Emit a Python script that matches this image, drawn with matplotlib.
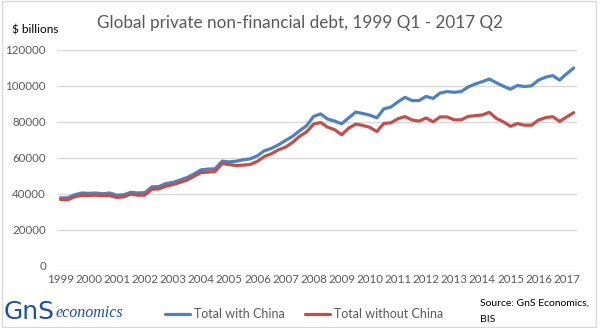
import numpy as np
import matplotlib
matplotlib.use('Agg')
from matplotlib import pyplot as plt
from matplotlib.patches import Rectangle

# quarterly values, 1999 Q1 .. 2017 Q2, $ billions
with_china = [37700, 37700, 39400, 40400, 40200, 40400, 40000, 40400,
              39200, 39400, 40800, 40400, 40600, 43800, 44000, 45700,
              46300, 47600, 49000, 51000, 53300, 53700, 53900, 58100,
              57700, 58100, 58900, 59400, 61100, 63900, 65200, 67200,
              69600, 71900, 75000, 77800, 83000, 84400, 81500, 80400,
              78900, 82200, 85400, 84600, 83700, 82200, 87200, 88200,
              91100, 93600, 91800, 91800, 94100, 93000, 96000, 96800,
              96400, 96800, 99400, 101000, 102300, 103800, 101700, 99800,
              98100, 100200, 99600, 100000, 103200, 104800, 105700, 103200,
              106700, 109900]
without_china = [36800, 36600, 38300, 39000, 39000, 39200, 38900, 39000,
                 37900, 38300, 39800, 39200, 39200, 42500, 42700, 44200,
                 45100, 46300, 47600, 49700, 51800, 52000, 52400, 56800,
                 56200, 55700, 55900, 56300, 58000, 60700, 62200, 64400,
                 65900, 68500, 71900, 74400, 78700, 79600, 77000, 75600,
                 72800, 76500, 78700, 78000, 76900, 74600, 79100, 79400,
                 81700, 82900, 81000, 80400, 82100, 80000, 82700, 82700,
                 81100, 81100, 83000, 83400, 83800, 85300, 81900, 80000,
                 77500, 79000, 78100, 78100, 81000, 82300, 82900, 80200,
                 82700, 85100]
years = list(range(1999, 2018))

plt.rcParams['font.family'] = ['Lato', 'DejaVu Sans']

fig = plt.figure(figsize=(6, 3.28), dpi=100)
ax = fig.add_axes([0.095, 0.19, 0.867, 0.658])

x = np.arange(len(with_china))
ax.plot(x, with_china, color='#4F81BD', lw=2.3, solid_capstyle='round', label='Total with China')
ax.plot(x, without_china, color='#C0504D', lw=2.3, solid_capstyle='round', label='Total without China')

ax.set_xlim(-0.5, len(x) - 0.5)
ax.set_ylim(0, 120000)
ax.set_yticks(range(0, 120001, 20000))
ax.set_xticks(np.arange(0, len(x), 4))
ax.set_xticklabels([str(y) for y in years])
ax.grid(axis='y', color='#d9d9d9', lw=1)
ax.set_axisbelow(True)
for s in ax.spines.values():
    s.set_visible(False)
ax.tick_params(length=0, labelsize=8.3, colors='#595959')
ax.tick_params(axis='y', pad=8)
ax.tick_params(axis='x', pad=6)

fig.text(0.5, 0.93, 'Global private non-financial debt, 1999 Q1 - 2017 Q2',
         ha='center', va='center', fontsize=12.3, color='#595959')
fig.text(0.02, 0.91, '$ billions', ha='left', va='center', fontsize=8.5, color='black')

# legend at the bottom
leg = fig.legend(loc='center', bbox_to_anchor=(0.507, 0.043), ncol=2, frameon=False,
                 fontsize=9, handlelength=2.0, columnspacing=1.6, handletextpad=0.3)
for t in leg.get_texts():
    t.set_color('#595959')

# logo
fig.text(0.006, 0.05, 'GnS', ha='left', va='center', fontsize=18,
         color='#1d4f9e', family='DejaVu Sans')
fig.text(0.093, 0.045, 'economics', ha='left', va='center', fontsize=11.5,
         color='#1d4f9e', style='italic', family='Liberation Serif')

fig.text(0.8, 0.075, 'Source: GnS Economics,', ha='left', va='center', fontsize=7.5)
fig.text(0.8, 0.025, 'BIS', ha='left', va='center', fontsize=7.5)

# chart border
fig.patches.append(Rectangle((0.003, 0.003), 0.99, 0.994, transform=fig.transFigure,
                             fill=False, edgecolor='#d9d9d9', lw=1))

fig.savefig('out.png', dpi=100)
